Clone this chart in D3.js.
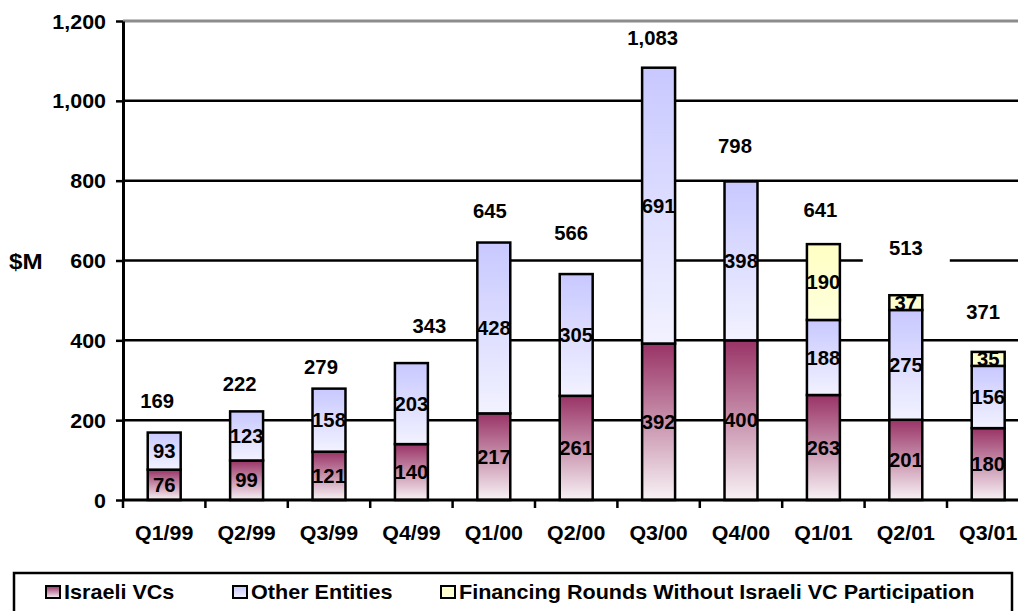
<!DOCTYPE html>
<html>
<head>
<meta charset="utf-8">
<script src="https://cdn.jsdelivr.net/npm/d3@7"></script>
<style>
  html, body { margin: 0; padding: 0; background: #fff; }
  svg { display: block; font-family: "Liberation Sans", Arial, sans-serif; font-weight: bold; }
</style>
</head>
<body>
<svg id="chart" width="1018" height="611"></svg>
<script>
// Quarterly venture investment in Israeli companies, $M
const quarters = ["Q1/99", "Q2/99", "Q3/99", "Q4/99", "Q1/00", "Q2/00", "Q3/00", "Q4/00", "Q1/01", "Q2/01", "Q3/01"];
const israeliVCs = [76, 99, 121, 140, 217, 261, 392, 400, 263, 201, 180];
const otherEntities = [93, 123, 158, 203, 428, 305, 691, 398, 188, 275, 156];
const withoutIsraeliVC = [0, 0, 0, 0, 0, 0, 0, 0, 190, 37, 35];
const totals = [169, 222, 279, 343, 645, 566, 1083, 798, 641, 513, 371];
const yTicks = [0, 200, 400, 600, 800, 1000, 1200];
const seriesNames = ["Israeli VCs", "Other Entities", "Financing Rounds Without Israeli VC Participation"];

// Placement of the total callouts above each bar (pixels lifted / nudged sideways)
const totalLift = [32, 27, 22, 37, 32, 41, 30, 35, 34, 47, 40];
const totalNudge = [-7, -7, -8, 18, -4, -5, -6, -6, -3, 0, -5];
const totalBackdrop = [false, false, false, false, false, false, false, false, false, true, false];

const keys = ["vc", "other", "none"];
const rows = quarters.map((q, i) => ({ q, vc: israeliVCs[i], other: otherEntities[i], none: withoutIsraeliVC[i] }));

const svg = d3.select("#chart");
const SX = 1.1; // text is drawn slightly widened

const plotLeft = 123, plotBottom = 500, plotTop = 21;
const step = 82.4;
const x = d3.scaleBand().domain(quarters)
  .range([plotLeft, plotLeft + step * quarters.length])
  .paddingInner(0.6).paddingOuter(0.3);
const y = d3.scaleLinear().domain([0, 1200]).range([plotBottom, plotTop]);

// gradients: each segment fades from a strong top colour to a pale bottom
const defs = svg.append("defs");
const fills = {
  vc: ["#993366", "#F8F2F5"],
  other: ["#C8C8FF", "#F2F2FF"],
  none: ["#FFFFC4", "#FFFFDC"]
};
keys.forEach(k => {
  const g = defs.append("linearGradient").attr("id", "grad-" + k)
    .attr("x1", 0).attr("y1", 0).attr("x2", 0).attr("y2", 1);
  g.append("stop").attr("offset", "0%").attr("stop-color", fills[k][0]);
  g.append("stop").attr("offset", "100%").attr("stop-color", fills[k][1]);
});

// horizontal gridlines
svg.append("g").selectAll("line").data(yTicks.filter(d => d > 0)).join("line")
  .attr("x1", plotLeft).attr("x2", 1018)
  .attr("y1", d => y(d)).attr("y2", d => y(d))
  .attr("stroke", d => d === 1200 ? "#8c8c8c" : "#000")
  .attr("stroke-width", d => d === 1200 ? 3 : 2.5);

// y axis
const yAxis = svg.append("g").attr("transform", `translate(${plotLeft},0)`)
  .call(d3.axisLeft(y).tickValues(yTicks).tickFormat(d3.format(",")).tickSize(7).tickSizeOuter(0));
yAxis.select(".domain").attr("stroke", "#000").attr("stroke-width", 3);
yAxis.selectAll(".tick line").attr("stroke", "#000").attr("stroke-width", 2.5);
yAxis.selectAll(".tick text")
  .attr("x", null).attr("dy", "0.36em")
  .attr("transform", `translate(-17,0) scale(${SX},1)`)
  .attr("fill", "#000").attr("font-size", 19.5).attr("font-weight", "bold")
  .attr("font-family", "Liberation Sans, Arial, sans-serif");

// stacked bars
const stacked = d3.stack().keys(keys)(rows);
const barG = svg.append("g");
stacked.forEach(layer => {
  barG.append("g").selectAll("rect")
    .data(layer.filter(d => d[1] - d[0] > 0))
    .join("rect")
    .attr("x", d => x(d.data.q))
    .attr("width", x.bandwidth())
    .attr("y", d => y(d[1]))
    .attr("height", d => y(d[0]) - y(d[1]))
    .attr("fill", `url(#grad-${layer.key})`)
    .attr("stroke", "#000").attr("stroke-width", 2.5);
});

// x axis
const xAxis = svg.append("g").attr("transform", `translate(0,${plotBottom})`);
xAxis.append("line").attr("x1", plotLeft).attr("x2", 1018).attr("y1", 0).attr("y2", 0)
  .attr("stroke", "#000").attr("stroke-width", 3);
xAxis.selectAll("line.tk").data(d3.range(quarters.length + 1)).join("line").attr("class", "tk")
  .attr("x1", i => plotLeft + i * x.step()).attr("x2", i => plotLeft + i * x.step())
  .attr("y1", 0).attr("y2", 8).attr("stroke", "#000").attr("stroke-width", 2.5);
xAxis.selectAll("text").data(quarters).join("text")
  .attr("text-anchor", "middle").attr("font-size", 20)
  .attr("transform", d => `translate(${x(d) + x.bandwidth() / 2},40) scale(1.07,1)`)
  .text(d => d);

// value labels inside each segment
const segLabels = svg.append("g");
stacked.forEach(layer => {
  segLabels.append("g").selectAll("text")
    .data(layer.filter(d => d[1] - d[0] > 0))
    .join("text")
    .attr("text-anchor", "middle").attr("dy", "0.36em").attr("font-size", 19.5)
    .attr("transform", d => `translate(${x(d.data.q) + x.bandwidth() / 2},${y((d[0] + d[1]) / 2)}) scale(1.04,1)`)
    .text(d => d[1] - d[0]);
});

// totals above bars
const totG = svg.append("g");
totals.forEach((t, i) => {
  const cx = x(quarters[i]) + x.bandwidth() / 2 + totalNudge[i];
  const cy = y(t) - totalLift[i];
  if (totalBackdrop[i]) {
    totG.append("rect").attr("x", cx - 43).attr("y", cy - 16).attr("width", 87).attr("height", 32).attr("fill", "#fff");
  }
  totG.append("text")
    .attr("text-anchor", "middle").attr("dy", "0.36em").attr("font-size", 19.5)
    .attr("transform", `translate(${cx},${cy}) scale(1.04,1)`)
    .text(d3.format(",")(t));
});

// y axis title
svg.append("text").attr("font-size", 22)
  .attr("transform", `translate(9,269) scale(${SX},1)`)
  .text("$M");

// legend
const legend = svg.append("g");
legend.append("rect").attr("x", 14).attr("y", 573).attr("width", 998).attr("height", 60)
  .attr("fill", "#fff").attr("stroke", "#000").attr("stroke-width", 2.5);
const legendX = [46, 233, 441];
keys.forEach((k, i) => {
  legend.append("rect").attr("x", legendX[i]).attr("y", 586).attr("width", 14).attr("height", 12)
    .attr("fill", `url(#grad-${k})`).attr("stroke", "#000").attr("stroke-width", 2);
  legend.append("text").attr("font-size", 20)
    .attr("transform", `translate(${legendX[i] + 18},599) scale(1.08,1)`)
    .text(seriesNames[i]);
});
</script>
</body>
</html>
